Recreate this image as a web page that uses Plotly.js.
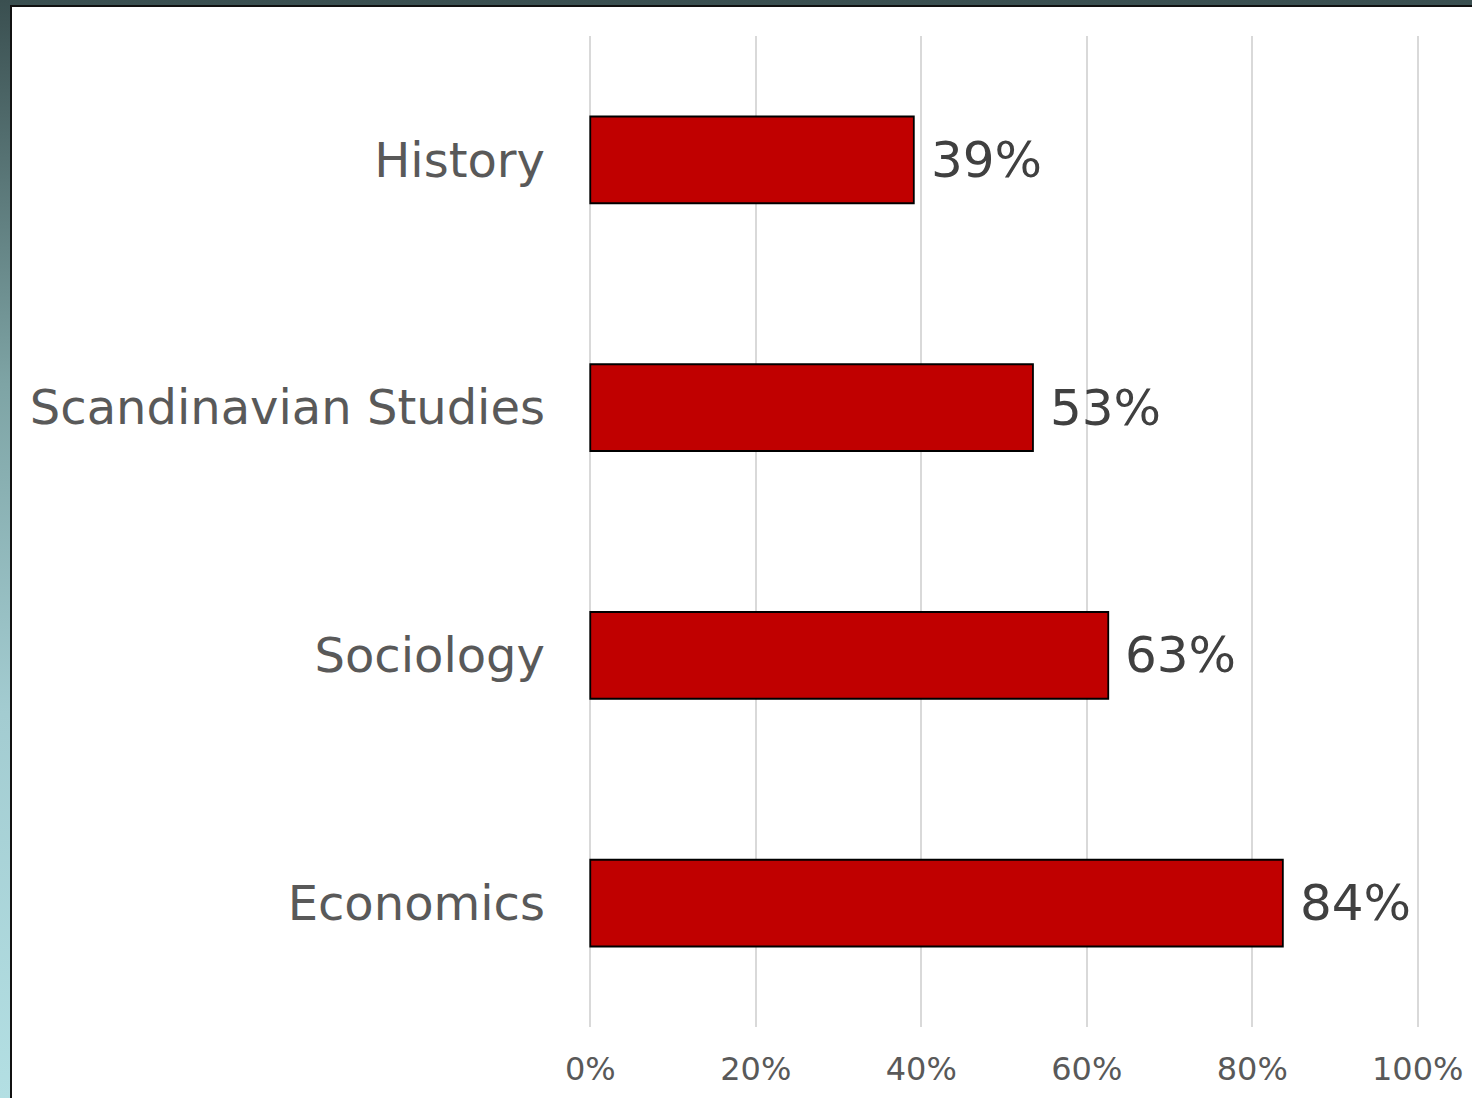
<!DOCTYPE html>
<html>
<head>
<meta charset="utf-8">
<script src="https://cdn.plot.ly/plotly-3.0.1.min.js"></script>
<style>
  html, body { margin: 0; padding: 0; width: 1472px; height: 1098px; overflow: hidden; }
  body { background: linear-gradient(to bottom, #3a4f50 0%, #7ea4a5 35%, #a3ccd1 65%, #b3dfe3 100%); position: relative; }
  #frame { position: absolute; left: 10px; top: 5px; width: 1462px; height: 1093px; background: #111; }
  #chart { position: absolute; left: 2px; top: 2px; width: 1460px; height: 1091px; background: #fff; }
</style>
</head>
<body>
<div id="frame"><div id="chart"></div></div>
<script>
const categories = ["History", "Scandinavian Studies", "Sociology", "Economics"];
const values = [0.391, 0.535, 0.626, 0.837];
const valueLabels = ["39%", "53%", "63%", "84%"];
const tickValues = [0, 0.2, 0.4, 0.6, 0.8, 1.0];
const tickLabels = ["0%", "20%", "40%", "60%", "80%", "100%"];

const font = "DejaVu Sans, Verdana, sans-serif";

const trace = {
  type: "bar",
  orientation: "h",
  x: values,
  y: categories,
  width: 0.35,
  marker: { color: "#C00000", line: { color: "#000000", width: 1.8 } },
  hoverinfo: "skip"
};

const annotations = categories.map((c, i) => ({
  x: values[i], y: c, xref: "x", yref: "y",
  text: valueLabels[i], showarrow: false,
  xanchor: "left", yanchor: "middle", xshift: 15, yshift: 0,
  font: { family: font, size: 50, color: "#404040" }
}));

const layout = {
  width: 1460, height: 1091,
  margin: { l: 570, r: 46, t: 29, b: 71 },
  paper_bgcolor: "#ffffff",
  plot_bgcolor: "#ffffff",
  showlegend: false,
  bargap: 0.65,
  xaxis: {
    range: [-0.01, 1.01],
    tickvals: tickValues,
    ticktext: tickLabels,
    showgrid: true,
    gridcolor: "#d9d9d9",
    gridwidth: 2,
    zeroline: false,
    showline: false,
    ticks: "",
    ticklabelstandoff: 20,
    tickfont: { family: font, size: 32, color: "#595959" },
    fixedrange: true
  },
  yaxis: {
    type: "category",
    autorange: false,
    range: [3.5, -0.5],
    showgrid: false,
    zeroline: false,
    showline: false,
    ticks: "",
    ticklabelstandoff: 36,
    tickfont: { family: font, size: 48, color: "#595959" },
    fixedrange: true
  },
  annotations: annotations
};

Plotly.newPlot("chart", [trace], layout, { displayModeBar: false, staticPlot: true });
</script>
</body>
</html>
